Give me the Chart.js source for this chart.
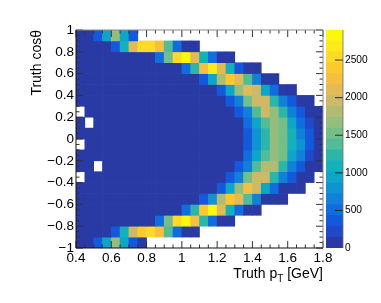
<!DOCTYPE html>
<html>
<head>
<meta charset="utf-8">
<title>Truth cos theta vs pT</title>
<script src="https://cdn.jsdelivr.net/npm/chart.js@4/dist/chart.umd.min.js"></script>
<style>
body{margin:0;background:#fff;width:381px;height:303px;overflow:hidden;position:relative;font-family:"Liberation Sans",Arial,sans-serif;}
canvas{position:absolute;top:0;}
#main{left:0;}
#bar{left:326px;}
#xtitle{position:absolute;right:58px;top:265px;font-size:14px;line-height:16px;color:#000;white-space:nowrap;}
#xtitle sub{font-size:10px;line-height:0;vertical-align:-4px;}
</style>
</head>
<body>
<canvas id="main" width="381" height="303"></canvas>
<canvas id="bar" width="55" height="303"></canvas>
<div id="xtitle">Truth p<sub>T</sub> [GeV]</div>
<script>
// bin edges of the histogram
var ptEdges = [0.40,0.45,0.50,0.55,0.60,0.65,0.70,0.75,0.80,0.85,0.90,0.95,1.00,1.05,1.10,1.15,1.20,1.25,1.30,1.35,1.40,1.45,1.50,1.55,1.60,1.65,1.70,1.75,1.80];
var cosEdges = [1.0,0.9,0.8,0.7,0.6,0.5,0.4,0.3,0.2,0.1,0,-0.1,-0.2,-0.3,-0.4,-0.5,-0.6,-0.7,-0.8,-0.9,-1.0];

// counts per row, top row first, null = empty bin
var row00 = [60,70,350,1000,1600,1000,350,null,null,null,null,null,null,null,null,null,null,null,null,null,null,null,null,null,null,null,null,null];
var row01 = [50,50,60,70,350,1100,2050,2500,2600,2300,1400,500,100,80,null,null,null,null,null,null,null,null,null,null,null,null,null,null];
var row02 = [40,40,40,40,40,50,50,50,60,450,1550,2500,2900,2100,1150,500,100,100,null,null,null,null,null,null,null,null,null,null];
var row03 = [30,30,30,30,30,30,30,30,40,40,40,50,450,1300,2300,2750,2100,1100,400,100,100,null,null,null,null,null,null,null];
var row04 = [30,30,30,30,30,30,30,30,30,30,30,30,40,50,300,900,1850,2400,2100,1350,600,120,120,null,null,null,null,null];
var row05 = [30,30,30,30,30,30,30,30,30,30,30,30,30,40,50,60,400,950,1650,2150,1900,1000,500,130,130,null,null,null];
var row06 = [30,30,30,30,30,30,30,30,30,30,30,30,30,30,40,50,60,300,700,1500,1900,1900,1200,650,350,120,120,null];
var row07 = [null,30,30,30,30,30,30,30,30,30,30,30,30,30,30,40,50,60,300,650,1350,1900,1700,1200,700,350,120,120];
var row08 = [30,null,30,30,30,30,30,30,30,30,30,30,30,30,30,30,40,50,80,450,950,1400,1700,1500,1000,550,200,120];
var row09 = [30,30,30,30,30,30,30,30,30,30,30,30,30,30,30,30,40,50,80,300,800,1200,1650,1550,1100,700,400,120];
var row10 = [null,30,30,30,30,30,30,30,30,30,30,30,30,30,30,30,40,50,80,350,800,1300,1650,1550,1100,750,350,120];
var row11 = [30,30,30,30,30,30,30,30,30,30,30,30,30,30,30,30,40,50,80,500,1000,1400,1650,1500,1000,600,200,120];
var row12 = [30,30,null,30,30,30,30,30,30,30,30,30,30,30,30,40,50,60,300,700,1350,1750,1800,1200,700,350,130,130];
var row13 = [null,30,30,30,30,30,30,30,30,30,30,30,30,30,40,50,60,300,700,1450,1900,1900,1200,700,300,120,120,null];
var row14 = [30,30,30,30,30,30,30,30,30,30,30,30,30,40,50,60,400,900,1600,2200,1900,950,500,130,130,130,null,null];
var row15 = [30,30,30,30,30,30,30,30,30,30,30,30,40,50,300,800,1850,2400,2150,1400,650,120,120,120,null,null,null,null];
var row16 = [30,30,30,30,30,30,30,30,40,40,40,50,450,1250,2350,2800,2150,1150,450,100,100,null,null,null,null,null,null,null];
var row17 = [40,40,40,40,40,50,50,50,60,450,1550,2500,2850,2200,1200,450,100,100,null,null,null,null,null,null,null,null,null,null];
var row18 = [50,50,60,70,350,1050,1950,2350,2550,2250,1350,450,100,80,null,null,null,null,null,null,null,null,null,null,null,null,null,null];
var row19 = [60,70,350,950,1650,950,350,100,null,null,null,null,null,null,null,null,null,null,null,null,null,null,null,null,null,null,null,null];
var rows = [row00,row01,row02,row03,row04,row05,row06,row07,row08,row09,row10,row11,row12,row13,row14,row15,row16,row17,row18,row19];

// colour bar
var zMax = 2900;
var zTicks = [0,500,1000,1500,2000,2500];
var palette = ["#2a3aa4","#2148c8","#1458dc","#116ce0","#1080d8","#0f94d2","#0da6c8","#14b0bb","#2cb6aa","#52bb97","#74be88","#95bd7e","#b2bb72","#cdb966","#e3bb55","#f5bf3f","#fdc92c","#fed92a","#fceb1a","#fbf80d"];

var fontName = '"Liberation Sans", Arial, sans-serif';

function colorOf(v){
	var level = Math.floor(v / zMax * palette.length);
	if(level > palette.length - 1){
		level = palette.length - 1;
	}
	return palette[level];
}

var datasets = [];
for(var r = 0; r < rows.length; r++){
	var cells = [];
	var colors = [];
	for(var c = 0; c < rows[r].length; c++){
		if(rows[r][c] == null){
			continue;
		}
		cells.push({x: (ptEdges[c] + ptEdges[c+1]) / 2, y: [cosEdges[r+1], cosEdges[r]]});
		colors.push(colorOf(rows[r][c]));
	}
	datasets.push({data: cells, backgroundColor: colors, borderWidth: 0, barPercentage: 1, categoryPercentage: 1, grouped: false});
}

// root style ticks pointing into the frame
var frameTicks = {
	id: 'frameTicks',
	afterDatasetsDraw: function(chart){
		var ctx = chart.ctx;
		var a = chart.chartArea;
		var x = chart.scales.x;
		var y = chart.scales.y;
		ctx.save();
		ctx.lineWidth = 1;
		ctx.strokeStyle = '#333';
		for(var i = 0; i <= 28; i++){
			var px = x.getPixelForValue(0.4 + i * 0.05);
			var len = (i % 4 == 0) ? 7 : 3.5;
			ctx.beginPath();
			ctx.moveTo(px, a.bottom);
			ctx.lineTo(px, a.bottom - len);
			ctx.moveTo(px, a.top);
			ctx.lineTo(px, a.top + len);
			ctx.stroke();
		}
		for(var j = 0; j <= 40; j++){
			var py = y.getPixelForValue(-1 + j * 0.05);
			var ylen = (j % 4 == 0) ? 7 : 3.5;
			ctx.beginPath();
			ctx.moveTo(a.left, py);
			ctx.lineTo(a.left + ylen, py);
			ctx.moveTo(a.right, py);
			ctx.lineTo(a.right - ylen, py);
			ctx.stroke();
		}
		ctx.strokeStyle = '#8a8a8a';
		ctx.beginPath();
		ctx.moveTo(a.left, a.top);
		ctx.lineTo(a.right, a.top);
		ctx.lineTo(a.right, a.bottom);
		ctx.stroke();
		ctx.strokeStyle = '#111';
		ctx.beginPath();
		ctx.moveTo(a.left, a.top);
		ctx.lineTo(a.left, a.bottom);
		ctx.lineTo(a.right, a.bottom);
		ctx.stroke();
		ctx.restore();
	}
};

new Chart(document.getElementById('main').getContext('2d'), {
	type: 'bar',
	data: {datasets: datasets},
	plugins: [frameTicks],
	options: {
		responsive: false,
		animation: false,
		devicePixelRatio: 1,
		layout: {padding: {top: 30, right: 58, left: 0, bottom: 0}},
		plugins: {legend: {display: false}, tooltip: {enabled: false}},
		scales: {
			x: {
				type: 'linear',
				offset: false,
				min: 0.4,
				max: 1.8,
				grid: {display: false, drawTicks: false},
				border: {display: false},
				afterFit: function(s){ s.height = 55; },
				ticks: {
					stepSize: 0.2,
					maxRotation: 0,
					autoSkip: false,
					padding: 2,
					color: '#000',
					font: {family: fontName, size: 13.5},
					callback: function(v){ return String(Math.round(v * 10) / 10); }
				}
			},
			y: {
				min: -1,
				max: 1,
				grid: {display: false, drawTicks: false},
				border: {display: false},
				afterFit: function(s){ s.width = 76; },
				title: {
					display: true,
					text: 'Truth cosθ',
					align: 'end',
					color: '#000',
					padding: {top: 29, bottom: 0},
					font: {family: fontName, size: 14}
				},
				ticks: {
					stepSize: 0.2,
					autoSkip: false,
					padding: 2,
					color: '#000',
					font: {family: fontName, size: 13.5},
					callback: function(v){ return String(Math.round(v * 10) / 10).replace('-', '\u2212'); }
				}
			}
		}
	}
});

var barSets = [];
for(var b = 0; b < palette.length; b++){
	barSets.push({data: [zMax / palette.length], backgroundColor: palette[b], borderWidth: 0, barPercentage: 1, categoryPercentage: 1, stack: 'z'});
}

var barTicks = {
	id: 'barTicks',
	afterDatasetsDraw: function(chart){
		var ctx = chart.ctx;
		var a = chart.chartArea;
		var y = chart.scales.y;
		ctx.save();
		ctx.lineWidth = 1;
		ctx.strokeStyle = 'rgba(20,20,20,0.85)';
		for(var i = 1; i < zTicks.length; i++){
			var py = y.getPixelForValue(zTicks[i]);
			ctx.beginPath();
			ctx.moveTo(a.right, py);
			ctx.lineTo(a.right - 8, py);
			ctx.stroke();
		}
		ctx.strokeStyle = 'rgba(110,110,100,0.8)';
		ctx.beginPath();
		ctx.moveTo(a.right, a.top);
		ctx.lineTo(a.right, a.bottom);
		ctx.stroke();
		ctx.restore();
	}
};

new Chart(document.getElementById('bar').getContext('2d'), {
	type: 'bar',
	data: {labels: ['z'], datasets: barSets},
	plugins: [barTicks],
	options: {
		responsive: false,
		animation: false,
		devicePixelRatio: 1,
		layout: {padding: {top: 30, bottom: 55, left: 0, right: 0}},
		plugins: {legend: {display: false}, tooltip: {enabled: false}},
		scales: {
			x: {display: false, stacked: true},
			y: {
				position: 'right',
				stacked: true,
				min: 0,
				max: zMax,
				grid: {display: false, drawTicks: false},
				border: {display: false},
				afterFit: function(s){ s.width = 38; },
				afterBuildTicks: function(s){ s.ticks = zTicks.map(function(v){ return {value: v}; }); },
				ticks: {
					autoSkip: false,
					padding: 2,
					color: '#000',
					font: {family: fontName, size: 10.2},
					callback: function(v){ return String(v); }
				}
			}
		}
	}
});
</script>
</body>
</html>
